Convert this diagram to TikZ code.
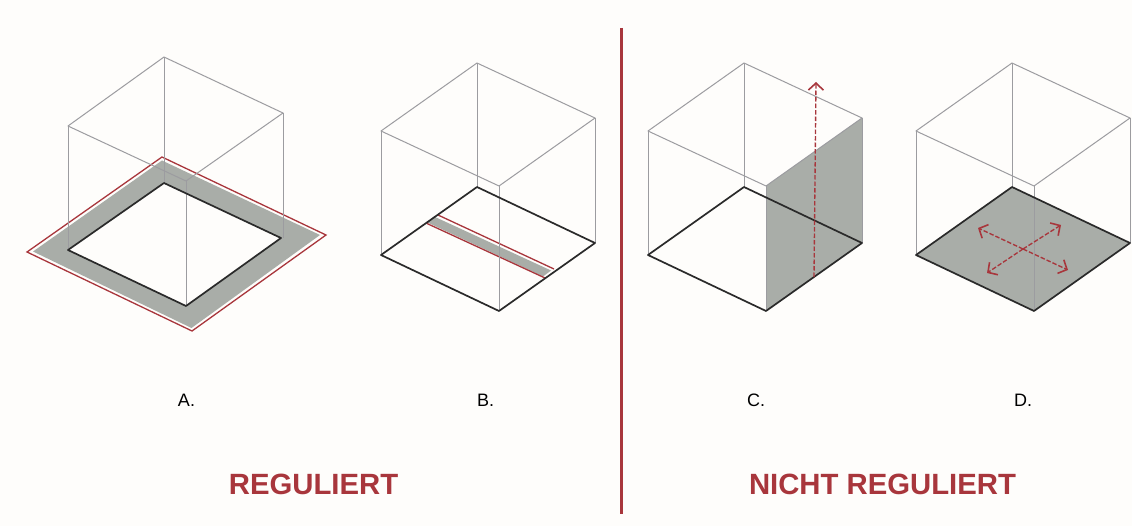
\documentclass[tikz,border=0pt]{standalone}
\usepackage{fontspec}
\setmainfont{Liberation Sans}
\usetikzlibrary{arrows.meta}
\definecolor{paper}{HTML}{FEFDFB}
\definecolor{wire}{HTML}{9C9CA0}
\definecolor{ink}{HTML}{2A2A2A}
\definecolor{slab}{HTML}{A9ADA8}
\definecolor{brick}{HTML}{A8363C}
\tikzset{
  x=1pt,y=-1pt,
  wireline/.style={draw=wire,line width=1pt,line join=round},
  baseline/.style={draw=ink,line width=1.7pt,line join=round},
  redline/.style={draw=brick,line width=1.3pt,line join=miter},
  dasharrow/.style={draw=brick,line width=1.35pt,dash pattern=on 4.5pt off 2pt,
    -{Straight Barb[length=7pt,width=15pt,line width=1.6pt]}},
  caseletter/.style={font=\fontsize{18}{20}\selectfont,text=black,inner sep=0pt},
  heading/.style={font=\bfseries\fontsize{29.3}{31}\selectfont,text=brick,inner sep=0pt},
}
\newcommand{\cubepoints}[1]{%
  \coordinate (#1tb) at (96,0);
  \coordinate (#1tl) at (0,68);
  \coordinate (#1tr) at (214,55);
  \coordinate (#1tf) at (118,123);
  \coordinate (#1bb) at (96,124);
  \coordinate (#1bl) at (0,192);
  \coordinate (#1br) at (214,180);
  \coordinate (#1bf) at (118,248);
}
\newcommand{\wirecube}[1]{%
  \draw[wireline] (#1tb)--(#1tr)--(#1tf)--(#1tl)--cycle;
  \draw[wireline] (#1tb)--(#1bb) (#1tl)--(#1bl) (#1tr)--(#1br) (#1tf)--(#1bf);
}
\newcommand{\basesquare}[1]{%
  \draw[baseline] (#1bb)--(#1br)--(#1bf)--(#1bl)--cycle;
}
\begin{document}
\begin{tikzpicture}
\useasboundingbox (0,0) rectangle (1132,526);
\fill[paper] (0,0) rectangle (1132,526);

% --- A ---
\coordinate (Att) at (164,57);
\coordinate (Atl) at (68,126);
\coordinate (Atr) at (283,113);
\coordinate (Atf) at (186,181);
\coordinate (Abb) at (164,183);
\coordinate (Abl) at (68,250);
\coordinate (Abr) at (281,238);
\coordinate (Abf) at (186,306);
\coordinate (Ahr) at (283,238);
\coordinate (Agb) at (162,160.5);
\coordinate (Agl) at (33,251.5);
\coordinate (Agf) at (191.5,328);
\coordinate (Agr) at (320,235);
\coordinate (Arb) at (162,157);
\coordinate (Arl) at (27,252);
\coordinate (Arf) at (192,331);
\coordinate (Arr) at (326,235);
\fill[slab,even odd rule] (Agb)--(Agr)--(Agf)--(Agl)--cycle (Abb)--(Abr)--(Abf)--(Abl)--cycle;
\draw[redline] (Arb)--(Arr)--(Arf)--(Arl)--cycle;
\draw[wireline] (Att)--(Atr)--(Atf)--(Atl)--cycle;
\draw[wireline] (Att)--(Abb) (Atl)--(Abl) (Atr)--(Ahr) (Atf)--(Abf);
\draw[baseline] (Abb)--(Abr)--(Abf)--(Abl)--cycle;

% --- B ---
\begin{scope}[shift={(381,63)}]
  \cubepoints{B}
\end{scope}
\coordinate (Bs1) at (434,216.5);
\coordinate (Bs2) at (551,270.5);
\coordinate (Bs3) at (543,276.5);
\coordinate (Bs4) at (427.5,222.5);
\coordinate (Br1) at (438,215);
\coordinate (Br2) at (554,269);
\coordinate (Br3) at (427,223.5);
\coordinate (Br4) at (545,278);
\fill[slab] (Bs1)--(Bs2)--(Bs3)--(Bs4)--cycle;
\draw[redline] (Br1)--(Br2) (Br3)--(Br4);
\wirecube{B}
\basesquare{B}

% --- C ---
\begin{scope}[shift={(648,63)}]
  \cubepoints{C}
\end{scope}
\coordinate (Cup) at (816,82);
\coordinate (Cfoot) at (814,277);
\fill[slab] (Ctf)--(Ctr)--(Cbr)--(Cbf)--cycle;
\wirecube{C}
\basesquare{C}
\draw[dasharrow] (Cfoot)--(Cup);

% --- D ---
\begin{scope}[shift={(916,63)}]
  \cubepoints{D}
\end{scope}
\coordinate (Dul) at (978,228);
\coordinate (Dlr) at (1068,270);
\coordinate (Dur) at (1061,225);
\coordinate (Dll) at (987,273);
\coordinate (Dc) at (1023,249);
\fill[slab] (Dbb)--(Dbr)--(Dbf)--(Dbl)--cycle;
\wirecube{D}
\basesquare{D}
\draw[dasharrow] (Dc)--(Dul);
\draw[dasharrow] (Dc)--(Dlr);
\draw[dasharrow] (Dc)--(Dur);
\draw[dasharrow] (Dc)--(Dll);

% --- divider and labels ---
\coordinate (divtop) at (621,28);
\coordinate (divbot) at (621,514);
\draw[draw=brick,line width=3pt] (divtop)--(divbot);
\node[caseletter] (la) at (186.5,400) {A.};
\node[caseletter] (lb) at (485.5,400) {B.};
\node[caseletter] (lc) at (756,400) {C.};
\node[caseletter] (ld) at (1023,400) {D.};
\node[heading] (reg) at (313.5,484) {REGULIERT};
\node[heading] (nreg) at (882.5,484) {NICHT REGULIERT};
\end{tikzpicture}
\end{document}
